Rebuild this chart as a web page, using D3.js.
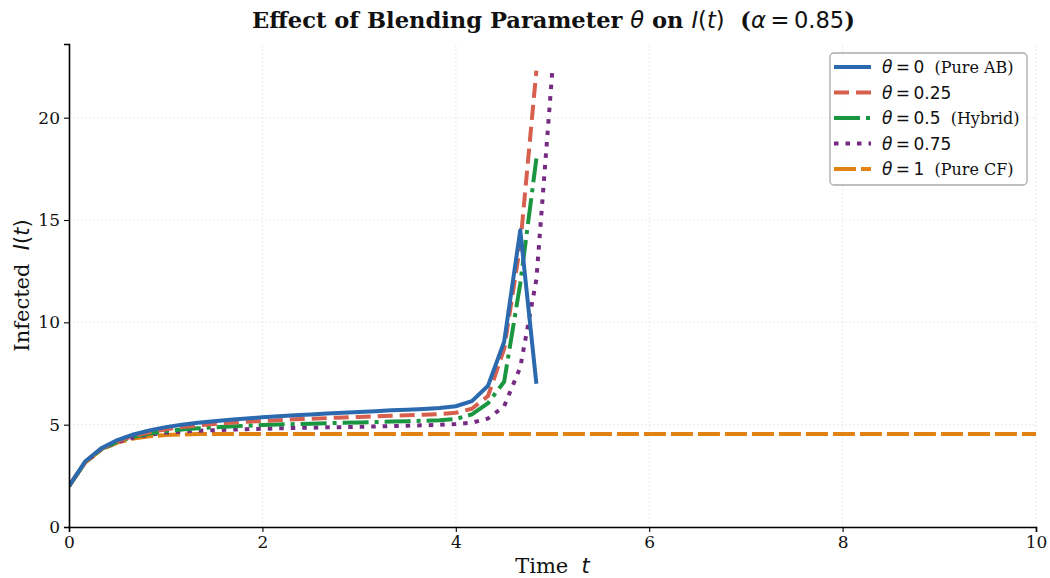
<html lang="en">
<head>
  <title>Blending Parameter</title>
  <meta charset="utf-8">
  <script src="https://d3js.org/d3.v7.min.js"></script>
  <style>
    body { margin: 0; background: #fff; }
    svg text { fill: #111; white-space: pre; }
  </style>
</head>
<body>
  <svg id="chart"></svg>
</body>
<script>

// ************************************************************************************** //
// Data (read off the reference, sampled at t = i/6)

var dt = 1/6;
var I_theta0   = [2.00, 3.20, 3.85, 4.25, 4.52, 4.72, 4.88, 5.00, 5.09, 5.17, 5.24, 5.30, 5.36, 5.41, 5.46, 5.50,
                  5.54, 5.58, 5.62, 5.66, 5.70, 5.73, 5.77, 5.81, 5.90, 6.15, 6.90, 9.05, 14.5, 7.00];
var I_theta25  = [2.00, 3.18, 3.82, 4.20, 4.45, 4.63, 4.77, 4.88, 4.96, 5.03, 5.09, 5.14, 5.18, 5.22, 5.26, 5.29,
                  5.32, 5.35, 5.38, 5.41, 5.44, 5.46, 5.49, 5.52, 5.58, 5.78, 6.40, 8.70, 13.8, 22.3];
var I_theta50  = [2.00, 3.16, 3.80, 4.17, 4.41, 4.57, 4.68, 4.76, 4.82, 4.87, 4.91, 4.95, 4.98, 5.01, 5.03, 5.05,
                  5.07, 5.09, 5.11, 5.13, 5.15, 5.17, 5.19, 5.22, 5.28, 5.50, 6.05, 7.10, 11.9, 18.0];
var I_theta75  = [2.00, 3.15, 3.79, 4.15, 4.37, 4.51, 4.60, 4.66, 4.70, 4.73, 4.76, 4.78, 4.80, 4.82, 4.84, 4.85,
                  4.87, 4.88, 4.90, 4.91, 4.93, 4.95, 4.97, 4.99, 5.03, 5.10, 5.30, 5.90, 7.80, 12.1, 22.4];
var I_theta100 = [2.00, 3.14, 3.78, 4.12, 4.32, 4.43, 4.49, 4.52, 4.54, 4.55, 4.55, 4.55, 4.55, 4.55, 4.55, 4.55,
                  4.55, 4.55, 4.55, 4.55, 4.55, 4.55, 4.55, 4.55, 4.55, 4.55, 4.55, 4.55, 4.55, 4.55, 4.55,
                  4.55, 4.55, 4.55, 4.55, 4.55, 4.55, 4.55, 4.55, 4.55, 4.55, 4.55, 4.55, 4.55, 4.55, 4.55,
                  4.55, 4.55, 4.55, 4.55, 4.55, 4.55, 4.55, 4.55, 4.55, 4.55, 4.55, 4.55, 4.55, 4.55, 4.55];

var thetaValues = ['0', '0.25', '0.5', '0.75', '1'];
var thetaNotes  = ['(Pure AB)', '', '(Hybrid)', '', '(Pure CF)'];
var xTicks = [0, 2, 4, 6, 8, 10];
var yTicks = [0, 5, 10, 15, 20];

// ************************************************************************************** //
// Layout

var width = 1050, height = 578;
var margin = { left: 69, right: 14, top: 44, bottom: 51 };
var svg = d3.select('#chart').attr('width', width).attr('height', height);

var x = d3.scaleLinear().domain([0, 10]).range([margin.left, width - margin.right]);
var y = d3.scaleLinear().domain([0, 23.6]).range([height - margin.bottom, margin.top]);

var series = [
  { vals: I_theta0,   color: '#2b6aae', dash: null },
  { vals: I_theta25,  color: '#d6604d', dash: '15,7' },
  { vals: I_theta50,  color: '#1a9641', dash: '26,6,4,6' },
  { vals: I_theta75,  color: '#762a83', dash: '4.5,7' },
  { vals: I_theta100, color: '#e08214', dash: '22,5' }
];

var serif = "'DejaVu Serif', serif", sans = "'DejaVu Sans', sans-serif";
var lw = 4;

// grid
var grid = svg.append('g').attr('stroke', '#e2e2e2').attr('stroke-width', 1).attr('stroke-dasharray', '1.5,2.5');
grid.selectAll('.gx').data(xTicks).enter().append('line')
  .attr('x1', d => x(d)).attr('x2', d => x(d)).attr('y1', y.range()[0]).attr('y2', y.range()[1]);
grid.selectAll('.gy').data(yTicks).enter().append('line')
  .attr('y1', d => y(d)).attr('y2', d => y(d)).attr('x1', x.range()[0]).attr('x2', x.range()[1]);

// lines
svg.append('clipPath').attr('id', 'clip').append('rect')
  .attr('x', margin.left).attr('y', margin.top)
  .attr('width', width - margin.left - margin.right).attr('height', height - margin.top - margin.bottom);

var lineGen = d3.line().x((d, i) => x(i * dt)).y(d => y(d));
var plot = svg.append('g').attr('clip-path', 'url(#clip)');
series.slice().reverse().forEach(s => {
  plot.append('path').attr('d', lineGen(s.vals))
    .attr('fill', 'none').attr('stroke', s.color).attr('stroke-width', lw)
    .attr('stroke-dasharray', s.dash).attr('stroke-linejoin', 'round');
});

// axes
var xAxis = svg.append('g').attr('transform', 'translate(0,' + y(0) + ')')
  .call(d3.axisBottom(x).tickValues(xTicks).tickSize(5).tickPadding(4));
var yAxis = svg.append('g').attr('transform', 'translate(' + margin.left + ',0)')
  .call(d3.axisLeft(y).tickValues(yTicks).tickSize(5).tickPadding(4));
[xAxis, yAxis].forEach(a => {
  a.select('.domain').attr('stroke', '#000').attr('stroke-width', 1.6);
  a.selectAll('.tick line').attr('stroke', '#000').attr('stroke-width', 1.1);
  a.selectAll('.tick text').attr('font-family', serif).attr('font-size', 17).attr('fill', '#222');
});

// title
var title = svg.append('text').attr('x', (x.range()[0] + x.range()[1]) / 2 + 1).attr('y', 28)
  .attr('text-anchor', 'middle').attr('font-family', serif).attr('font-size', 22.6).attr('font-weight', 'bold');
function mathSpan(sel, txt, italic) {
  return sel.append('tspan').attr('font-family', sans).attr('font-weight', 'normal')
    .attr('font-style', italic ? 'italic' : 'normal').text(txt);
}
title.append('tspan').text('Effect of Blending Parameter ');
mathSpan(title, 'θ', true);
title.append('tspan').text(' on ');
mathSpan(title, 'I', true);
mathSpan(title, '(', false);
mathSpan(title, 't', true);
mathSpan(title, ')', false);
title.append('tspan').text('  (');
mathSpan(title, 'α', true);
mathSpan(title, '\u2009=\u20090.85', false);
title.append('tspan').text(')');

// axis labels
var xl = svg.append('text').attr('x', (x.range()[0] + x.range()[1]) / 2).attr('y', 573)
  .attr('text-anchor', 'middle').attr('font-family', serif).attr('font-size', 21);
xl.append('tspan').text('Time  ');
mathSpan(xl, 't', true);

var yl = svg.append('text').attr('transform', 'translate(29,' + (y.range()[0] + y.range()[1]) / 2 + ') rotate(-90)')
  .attr('text-anchor', 'middle').attr('font-family', serif).attr('font-size', 21);
yl.append('tspan').text('Infected  ');
mathSpan(yl, 'I', true);
mathSpan(yl, '(', false);
mathSpan(yl, 't', true);
mathSpan(yl, ')', false);

// legend
var legend = svg.append('g').attr('transform', 'translate(830,53)');
legend.append('rect').attr('width', 197).attr('height', 132).attr('rx', 4)
  .attr('fill', 'rgba(255,255,255,0.85)').attr('stroke', '#aaa').attr('stroke-width', 1.3);
series.forEach((s, i) => {
  var row = legend.append('g').attr('transform', 'translate(0,' + (14 + i * 25.5) + ')');
  row.append('line').attr('x1', 4).attr('x2', 41).attr('y1', 0).attr('y2', 0)
    .attr('stroke', s.color).attr('stroke-width', lw).attr('stroke-dasharray', s.dash);
  var t = row.append('text').attr('x', 52).attr('y', 6).attr('font-size', 17).attr('font-family', sans);
  t.append('tspan').attr('font-style', 'italic').text('θ');
  t.append('tspan').text('\u2009=\u2009' + thetaValues[i]);
  if (thetaNotes[i]) t.append('tspan').attr('font-family', serif).attr('font-size', 16).text('  ' + thetaNotes[i]);
});

</script>
</html>
